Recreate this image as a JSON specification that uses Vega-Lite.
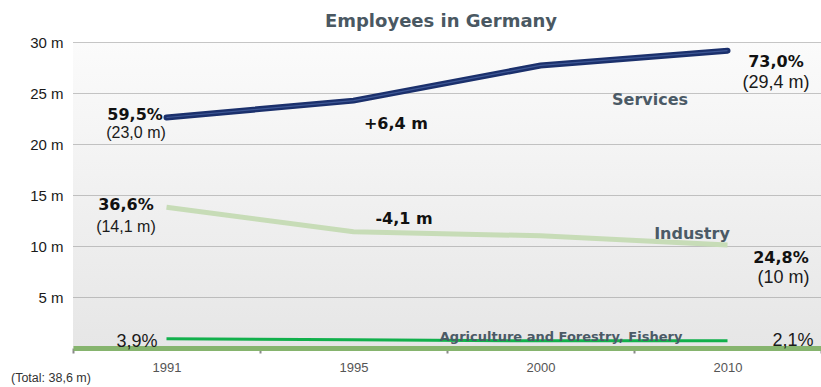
{
  "$schema": "https://vega.github.io/schema/vega-lite/v6.json",
  "width": 748,
  "height": 306,
  "autosize": {"type": "none"},
  "padding": {"left": 73, "top": 42, "right": 0, "bottom": 39},
  "background": "white",
  "title": {
    "text": "Employees in Germany",
    "font": "DejaVu Sans",
    "fontSize": 18,
    "fontWeight": "bold",
    "color": "#4a5862",
    "anchor": "middle",
    "frame": "group",
    "baseline": "alphabetic",
    "offset": -10,
    "dx": -6
  },
  "config": {
    "view": {
      "stroke": null,
      "fill": {
        "gradient": "linear",
        "x1": 0, "y1": 0, "x2": 0, "y2": 1,
        "stops": [
          {"offset": 0, "color": "#fbfbfb"},
          {"offset": 1, "color": "#e6e6e6"}
        ]
      }
    }
  },
  "datasets": {
    "lines": [
      {"sector": "Services", "year": "1991", "m": 22.6},
      {"sector": "Services", "year": "1995", "m": 24.25},
      {"sector": "Services", "year": "2000", "m": 27.7},
      {"sector": "Services", "year": "2010", "m": 29.15},
      {"sector": "Industry", "year": "1991", "m": 13.8},
      {"sector": "Industry", "year": "1995", "m": 11.4},
      {"sector": "Industry", "year": "2000", "m": 11.0},
      {"sector": "Industry", "year": "2010", "m": 10.1},
      {"sector": "Agriculture and Forestry, Fishery", "year": "1991", "m": 0.9},
      {"sector": "Agriculture and Forestry, Fishery", "year": "1995", "m": 0.8},
      {"sector": "Agriculture and Forestry, Fishery", "year": "2000", "m": 0.7},
      {"sector": "Agriculture and Forestry, Fishery", "year": "2010", "m": 0.7}
    ],
    "notes": [
      {"kind": "share", "text": "59,5%", "pos": -0.168, "m": 22.8},
      {"kind": "share", "text": "73,0%", "pos": 3.259, "m": 28.04},
      {"kind": "share", "text": "36,6%", "pos": -0.217, "m": 14.0},
      {"kind": "share", "text": "24,8%", "pos": 3.286, "m": 8.82},
      {"kind": "count", "text": "(23,0 m)", "pos": -0.163, "m": 21.1},
      {"kind": "count", "text": "(14,1 m)", "pos": -0.217, "m": 11.86},
      {"kind": "count", "text": "(29,4 m)", "pos": 3.259, "m": 25.98},
      {"kind": "count", "text": "(10 m)", "pos": 3.30, "m": 6.86},
      {"kind": "change", "text": "+6,4 m", "pos": 1.227, "m": 21.96},
      {"kind": "change", "text": "-4,1 m", "pos": 1.27, "m": 12.65},
      {"kind": "sector", "text": "Services", "pos": 2.586, "m": 24.3},
      {"kind": "sector", "text": "Industry", "pos": 2.81, "m": 11.18},
      {"kind": "small", "text": "Agriculture and Forestry, Fishery", "pos": 2.11, "m": 1.08},
      {"kind": "smallshare", "text": "3,9%", "pos": -0.158, "m": 0.59},
      {"kind": "smallshare", "text": "2,1%", "pos": 3.35, "m": 0.69},
      {"kind": "total", "text": "(Total: 38,6 m)", "pos": -0.618, "m": -2.94}
    ]
  },
  "resolve": {"scale": {"x": "independent"}},
  "layer": [
    {
      "data": {"name": "lines"},
      "layer": [
        {
          "transform": [{"filter": "datum.sector === 'Industry'"}],
          "mark": {"type": "line", "color": "#c7dcb7", "strokeWidth": 5},
          "encoding": {}
        },
        {
          "transform": [{"filter": "datum.sector === 'Agriculture and Forestry, Fishery'"}],
          "mark": {"type": "line", "color": "#12b04c", "strokeWidth": 3},
          "encoding": {}
        },
        {
          "transform": [{"filter": "datum.sector === 'Services'"}],
          "mark": {"type": "line", "color": "#1b306c", "strokeWidth": 6, "strokeCap": "round"},
          "encoding": {}
        },
        {
          "transform": [{"filter": "datum.sector === 'Services'"}],
          "mark": {"type": "line", "color": "#4d68a6", "strokeWidth": 1.2, "opacity": 0.7},
          "encoding": {}
        }
      ],
      "encoding": {
        "x": {
          "field": "year",
          "type": "ordinal",
          "scale": {"type": "band", "paddingInner": 0, "paddingOuter": 0},
          "axis": {
            "title": null,
            "tickBand": "extent",
            "domainColor": "#86b46e",
            "domainWidth": 5,
            "tickColor": "#8a8a8a",
            "tickWidth": 2,
            "tickSize": 5,
            "labelAngle": 0,
            "labelFont": "Liberation Sans",
            "labelFontSize": 13,
            "labelColor": "#555555",
            "labelPadding": 8,
            "labelDx": 6,
            "grid": false
          }
        },
        "y": {
          "field": "m",
          "type": "quantitative",
          "scale": {"domain": [0, 30], "nice": false},
          "axis": {
            "title": null,
            "values": [5, 10, 15, 20, 25, 30],
            "labelExpr": "datum.value + ' m'",
            "labelFont": "Liberation Sans",
            "labelFontSize": 15,
            "labelColor": "#1a1a1a",
            "labelPadding": 10,
            "ticks": false,
            "domain": false,
            "grid": true,
            "gridColor": "#8f8f8f",
            "gridDash": [1, 1],
            "gridWidth": 1
          }
        }
      }
    },
    {
      "data": {"name": "notes"},
      "encoding": {
        "x": {
          "field": "pos",
          "type": "quantitative",
          "scale": {"domain": [-0.5, 3.5], "nice": false, "zero": false},
          "axis": null
        },
        "y": {"field": "m", "type": "quantitative"},
        "text": {"field": "text"}
      },
      "layer": [
        {
          "transform": [{"filter": "datum.kind === 'share' || datum.kind === 'change'"}],
          "mark": {"type": "text", "font": "DejaVu Sans", "fontSize": 16, "fontWeight": "bold", "color": "#111111", "baseline": "middle"}
        },
        {
          "transform": [{"filter": "datum.kind === 'count' && datum.pos < 0"}],
          "mark": {"type": "text", "font": "Liberation Sans", "fontSize": 16, "color": "#1a1a1a", "baseline": "middle"}
        },
        {
          "transform": [{"filter": "datum.kind === 'count' && datum.pos > 0"}],
          "mark": {"type": "text", "font": "Liberation Sans", "fontSize": 18, "color": "#1a1a1a", "baseline": "middle"}
        },
        {
          "transform": [{"filter": "datum.kind === 'sector'"}],
          "mark": {"type": "text", "font": "DejaVu Sans", "fontSize": 16, "fontWeight": "bold", "color": "#4b5a66", "baseline": "middle"}
        },
        {
          "transform": [{"filter": "datum.kind === 'small'"}],
          "mark": {"type": "text", "font": "DejaVu Sans", "fontSize": 13, "fontWeight": "bold", "color": "#4b5a66", "baseline": "middle"}
        },
        {
          "transform": [{"filter": "datum.kind === 'smallshare'"}],
          "mark": {"type": "text", "font": "Liberation Sans", "fontSize": 18, "color": "#1a1a1a", "baseline": "middle"}
        },
        {
          "transform": [{"filter": "datum.kind === 'total'"}],
          "mark": {"type": "text", "font": "Liberation Sans", "fontSize": 12.5, "color": "#333333", "baseline": "middle"}
        }
      ]
    }
  ]
}
